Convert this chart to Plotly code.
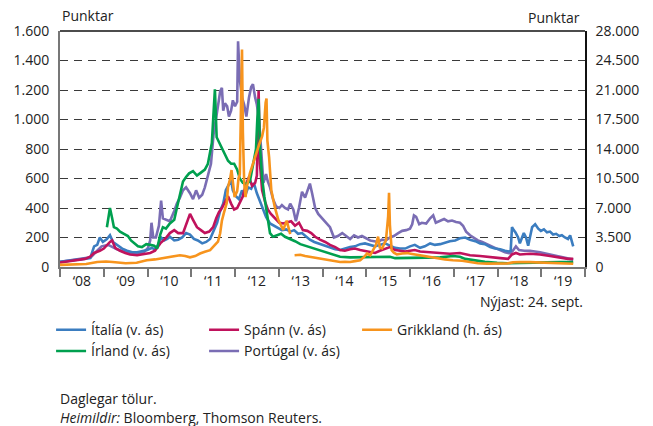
import pandas as pd
import plotly.graph_objects as go

# Skuldatryggingaálag (CDS) nokkurra evruríkja, punktar.
# Tímasetningar eru í árum með aukastöfum.

italy_t = [2008.0, 2008.23, 2008.41, 2008.57, 2008.69, 2008.78, 2008.85, 2008.91, 2008.98, 2009.07,
           2009.14, 2009.21, 2009.30, 2009.42, 2009.53, 2009.65, 2009.76, 2009.87, 2009.99, 2010.10,
           2010.17, 2010.24, 2010.31, 2010.38, 2010.45, 2010.51, 2010.61, 2010.70, 2010.79, 2010.88,
           2010.97, 2011.06, 2011.15, 2011.25, 2011.34, 2011.43, 2011.52, 2011.59, 2011.66, 2011.73,
           2011.79, 2011.86, 2011.91, 2011.95, 2012.02, 2012.09, 2012.16, 2012.23, 2012.30, 2012.37,
           2012.43, 2012.50, 2012.57, 2012.64, 2012.71, 2012.80, 2012.89, 2012.98, 2013.07, 2013.17,
           2013.26, 2013.35, 2013.44, 2013.53, 2013.62, 2013.71, 2013.81, 2013.90, 2013.99, 2014.08,
           2014.17, 2014.29, 2014.40, 2014.51, 2014.63, 2014.74, 2014.86, 2014.97, 2015.09, 2015.20,
           2015.31, 2015.43, 2015.54, 2015.66, 2015.77, 2015.89, 2016.00, 2016.11, 2016.23, 2016.34,
           2016.46, 2016.57, 2016.69, 2016.80, 2016.91, 2017.03, 2017.14, 2017.26, 2017.37, 2017.49,
           2017.60, 2017.71, 2017.83, 2017.94, 2018.06, 2018.17, 2018.26, 2018.30, 2018.33, 2018.37,
           2018.41, 2018.47, 2018.51, 2018.56, 2018.60, 2018.65, 2018.70, 2018.74, 2018.79, 2018.86,
           2018.93, 2018.99, 2019.06, 2019.13, 2019.20, 2019.27, 2019.34, 2019.41, 2019.47, 2019.54,
           2019.61, 2019.66, 2019.70, 2019.73]
italy_v = [35, 45, 50, 55, 60, 140, 150, 200, 170, 190,
           215, 170, 150, 125, 110, 100, 100, 105, 115, 130,
           120, 150, 200, 180, 190, 205, 180, 185, 200, 230,
           220, 190, 180, 160, 170, 190, 250, 300, 380, 430,
           520, 560, 590, 520, 480, 460, 520, 480, 540, 530,
           570, 500, 450, 390, 340, 295, 280, 265, 250, 255,
           240, 250, 225, 230, 210, 185, 170, 160, 150, 140,
           130, 120, 115, 125, 135, 140, 155, 160, 150, 140,
           150, 160, 145, 130, 125, 125, 140, 150, 130, 140,
           160, 150, 155, 165, 175, 180, 195, 200, 185, 175,
           160, 155, 135, 125, 120, 110, 105, 110, 270, 250,
           235, 200, 160, 200, 230, 200, 145, 200, 270, 290,
           260, 245, 255, 235, 240, 220, 225, 210, 215, 200,
           190, 215, 175, 140]

spain_t = [2008.0, 2008.23, 2008.41, 2008.57, 2008.69, 2008.78, 2008.91, 2009.0, 2009.14, 2009.19,
           2009.26, 2009.37, 2009.49, 2009.60, 2009.76, 2009.90, 2010.06, 2010.17, 2010.29, 2010.40,
           2010.51, 2010.61, 2010.70, 2010.81, 2010.90, 2010.97, 2011.04, 2011.13, 2011.22, 2011.31,
           2011.41, 2011.50, 2011.57, 2011.63, 2011.70, 2011.77, 2011.84, 2011.91, 2011.98, 2012.05,
           2012.11, 2012.18, 2012.25, 2012.32, 2012.39, 2012.46, 2012.50, 2012.54, 2012.57, 2012.62,
           2012.69, 2012.75, 2012.82, 2012.91, 2013.01, 2013.10, 2013.19, 2013.28, 2013.37, 2013.46,
           2013.55, 2013.65, 2013.74, 2013.83, 2013.94, 2014.06, 2014.17, 2014.29, 2014.40, 2014.51,
           2014.63, 2014.74, 2014.86, 2014.97, 2015.09, 2015.20, 2015.31, 2015.43, 2015.54, 2015.66,
           2015.77, 2015.89, 2016.00, 2016.11, 2016.23, 2016.46, 2016.69, 2016.91, 2017.14, 2017.37,
           2017.60, 2017.83, 2018.06, 2018.24, 2018.33, 2018.42, 2018.51, 2018.74, 2018.97, 2019.20,
           2019.43, 2019.61, 2019.73]
spain_v = [30, 40, 45, 55, 70, 95, 110, 125, 170, 180,
           130, 110, 95, 85, 80, 85, 95, 110, 160, 190,
           230, 250, 230, 230, 300, 360, 320, 270, 250, 230,
           240, 270, 330, 370, 400, 440, 480, 430, 390, 400,
           440, 480, 560, 610, 550, 570, 620, 1195, 700, 520,
           440, 390, 360, 330, 300, 295, 300, 310, 280, 300,
           250, 245, 230, 205, 185, 170, 150, 135, 115, 110,
           120, 125, 115, 110, 100, 95, 110, 125, 135, 115,
           110, 105, 110, 115, 105, 100, 95, 90, 95, 80,
           75, 70, 60, 55, 85, 95, 85, 90, 85, 75,
           65, 55, 55]

ireland_t = [2009.07, 2009.10, 2009.14, 2009.19, 2009.23, 2009.30, 2009.37, 2009.46, 2009.55, 2009.62,
             2009.69, 2009.78, 2009.87, 2009.97, 2010.06, 2010.15, 2010.22, 2010.29, 2010.35, 2010.42,
             2010.51, 2010.61, 2010.67, 2010.72, 2010.77, 2010.81, 2010.88, 2010.95, 2011.04, 2011.13,
             2011.22, 2011.31, 2011.38, 2011.43, 2011.47, 2011.51, 2011.54, 2011.58, 2011.63, 2011.70,
             2011.77, 2011.84, 2011.91, 2011.98, 2012.05, 2012.11, 2012.18, 2012.25, 2012.34, 2012.41,
             2012.48, 2012.51, 2012.54, 2012.57, 2012.62, 2012.67, 2012.73, 2012.80, 2012.87, 2012.96,
             2013.05, 2013.14, 2013.26, 2013.37, 2013.49, 2013.60, 2013.71, 2013.83, 2013.94, 2014.06,
             2014.17, 2014.29, 2014.40, 2014.63, 2014.86, 2015.09, 2015.31, 2015.54, 2015.66, 2015.89,
             2016.11, 2016.34, 2016.69, 2016.98, 2017.14, 2017.26, 2017.44, 2017.71, 2017.99, 2018.22,
             2018.51, 2018.74, 2019.09, 2019.43, 2019.73]
ireland_v = [270, 330, 400, 330, 270, 260, 240, 225, 210, 180,
             160, 140, 135, 155, 150, 145, 125, 220, 270, 260,
             295, 320, 400, 470, 520, 580, 610, 635, 650, 620,
             640, 660, 700, 770, 840, 1050, 1205, 880, 850, 800,
             760, 720, 700, 700, 660, 600, 570, 565, 580, 680,
             800, 1000, 1140, 820, 600, 480, 350, 230, 205, 215,
             225, 205, 190, 175, 155, 145, 135, 125, 110, 100,
             90, 80, 70, 65, 65, 65, 65, 70, 60, 60,
             65, 65, 65, 75, 70, 55, 45, 35, 28, 25,
             28, 30, 35, 33, 33]

portugal_t = [2008.0, 2008.40, 2008.70, 2008.85, 2008.95, 2009.10, 2009.30, 2009.50, 2009.70, 2009.90,
              2010.01, 2010.06, 2010.09, 2010.13, 2010.19, 2010.26, 2010.31, 2010.35, 2010.42, 2010.51,
              2010.61, 2010.67, 2010.74, 2010.81, 2010.88, 2010.97, 2011.04, 2011.11, 2011.18, 2011.25,
              2011.31, 2011.38, 2011.45, 2011.51, 2011.57, 2011.62, 2011.66, 2011.70, 2011.73, 2011.77,
              2011.82, 2011.86, 2011.91, 2011.95, 2012.00, 2012.05, 2012.07, 2012.11, 2012.16, 2012.21,
              2012.26, 2012.32, 2012.37, 2012.41, 2012.46, 2012.50, 2012.55, 2012.58, 2012.62, 2012.65,
              2012.71, 2012.75, 2012.80, 2012.87, 2012.94, 2013.01, 2013.07, 2013.14, 2013.21, 2013.26,
              2013.33, 2013.39, 2013.46, 2013.53, 2013.60, 2013.67, 2013.71, 2013.76, 2013.83, 2013.90,
              2013.99, 2014.08, 2014.17, 2014.26, 2014.35, 2014.45, 2014.54, 2014.63, 2014.72, 2014.81,
              2014.90, 2014.99, 2015.09, 2015.18, 2015.27, 2015.36, 2015.45, 2015.54, 2015.63, 2015.73,
              2015.82, 2015.91, 2016.00, 2016.05, 2016.09, 2016.14, 2016.21, 2016.27, 2016.37, 2016.46,
              2016.53, 2016.59, 2016.69, 2016.78, 2016.87, 2016.96, 2017.05, 2017.14, 2017.21, 2017.28,
              2017.37, 2017.46, 2017.55, 2017.65, 2017.74, 2017.83, 2017.94, 2018.06, 2018.17, 2018.29,
              2018.35, 2018.42, 2018.49, 2018.61, 2018.74, 2018.97, 2019.20, 2019.43, 2019.61, 2019.73]
portugal_v = [35, 50, 65, 110, 140, 150, 120, 100, 90, 95,
              130, 180, 300, 200, 200, 280, 450, 330, 320, 310,
              380, 430, 470, 520, 540, 500, 460, 520, 470, 490,
              540, 620, 700, 900, 1000, 1110, 1190, 1215, 1060, 1110,
              1090, 1020, 1060, 1130, 1090, 1120, 1530, 1270, 1150, 1100,
              1020, 1150, 1220, 1240, 1150, 1100, 1000, 850, 660, 570,
              630, 580, 540, 460, 410, 400, 420, 400, 390, 430,
              390, 310, 400, 510, 470, 530, 565, 500, 400, 360,
              330, 300, 270, 200, 210, 230, 210, 190, 215, 200,
              210, 195, 180, 175, 170, 185, 180, 200, 210, 230,
              245, 250, 260, 290, 350, 340, 290, 300, 295, 330,
              350, 300, 315, 325, 310, 315, 305, 300, 280, 240,
              215, 195, 180, 170, 155, 145, 130, 115, 100, 92,
              110, 140, 115, 110, 110, 100, 85, 70, 55, 50]

# Grikkland er á hægri ás; bil í röðinni við skuldaskiptin 2013
greece_t = [2008.0, 2008.30, 2008.60, 2008.85, 2009.0, 2009.05, 2009.20, 2009.50, 2009.75, 2009.98,
            2010.17, 2010.29, 2010.40, 2010.51, 2010.63, 2010.74, 2010.86, 2010.97, 2011.09, 2011.20,
            2011.31, 2011.43, 2011.52, 2011.61, 2011.66, 2011.70, 2011.75, 2011.81, 2011.84, 2011.89,
            2011.92, 2011.95, 2011.99, 2012.05, 2012.08, 2012.11, 2012.13, 2012.16, 2012.18, 2012.21,
            2012.24, 2012.27, 2012.34, 2012.41, 2012.48, 2012.55, 2012.62, 2012.66, 2012.70, 2012.72,
            2012.74, 2012.78, 2012.83, 2012.91, 2012.99, 2013.10, 2013.18, 2013.26, 2013.31, 2013.36,
            2013.49, 2013.60, 2013.71, 2013.83, 2013.94, 2014.06, 2014.17, 2014.29, 2014.40, 2014.51,
            2014.63, 2014.74, 2014.86, 2014.95, 2015.02, 2015.09, 2015.15, 2015.22, 2015.27, 2015.31,
            2015.36, 2015.41, 2015.45, 2015.50, 2015.52, 2015.54, 2015.58, 2015.63, 2015.70, 2015.82,
            2015.93, 2016.05, 2016.16, 2016.27, 2016.46, 2016.62, 2016.80, 2016.98, 2017.19, 2017.37,
            2017.55, 2017.76, 2017.99, 2018.22, 2018.35, 2018.51, 2018.74, 2018.97, 2019.20, 2019.43,
            2019.66, 2019.73]
greece_v = [250, 300, 350, 600, 700, 650, 600, 450, 500, 800,
            900, 1000, 1100, 1200, 1300, 1400, 1300, 1150, 1300, 1600,
            1800, 2000, 2500, 3000, 4000, 5500, 6500, 7600, 9500, 10500,
            11500, 10000, 8300, 9000, 10500, 11000, 18000, 25800, 16000, 10000,
            8300, 9500, 11100, 12300, 13500, 14500, 15500, 16500, 19500, 20000,
            15000, 13000, 9100, 7100, 5600, 4400, 5500, 3900, None, 1400,
            1450, 1300, 1200, 1150, 1000, 900, 800, 700, 600, 620,
            600, 700, 800, 1200, 1600, 1400, 2000, 2600, 3600, 2300,
            2200, 2800, 3200, 6000, 8800, 5000, 2000, 1700, 1500, 1600,
            1650, 1550, 1450, 1400, 1200, 1000, 900, 800, 750, 600,
            450, 400, 400, 420, 550, 600, 580, 550, 480, 430,
            380, 380]

left_ticks = list(range(0, 1601, 200))
right_ticks = list(range(0, 28001, 3500))


def to_dates(ts):
    out = []
    for t in ts:
        y = int(t)
        start = pd.Timestamp(year=y, month=1, day=1)
        out.append(start + pd.Timedelta(days=(t - y) * 365.25))
    return out


BLUE = "#3b7dc0"
MAGENTA = "#c0125c"
ORANGE = "#f7941d"
GREEN = "#00a04f"
PURPLE = "#7a6db4"
FONT = "Open Sans"

fig = go.Figure()

# teikniröð: fjólublátt neðst, appelsínugult efst
series = [
    ("Portúgal (v. ás)", portugal_t, portugal_v, PURPLE, "y", 5),
    ("Ítalía (v. ás)", italy_t, italy_v, BLUE, "y", 1),
    ("Spánn (v. ás)", spain_t, spain_v, MAGENTA, "y", 2),
    ("Írland (v. ás)", ireland_t, ireland_v, GREEN, "y", 4),
    ("Grikkland (h. ás)", greece_t, greece_v, ORANGE, "y2", 3),
]
for name, ts, vs, color, axis, rank in series:
    fig.add_trace(go.Scatter(
        x=to_dates(ts), y=vs, name=name, mode="lines", yaxis=axis,
        line=dict(color=color, width=2.6), connectgaps=False,
        legendrank=rank,
    ))

fig.update_layout(
    width=653, height=426,
    margin=dict(l=60, r=68, t=31, b=159),
    paper_bgcolor="white", plot_bgcolor="white",
    separators=",.",
    font=dict(family=FONT, size=14, color="#222222"),
    showlegend=True,
    legend=dict(
        orientation="h", x=-0.017, xanchor="left", y=-0.2, yanchor="top",
        entrywidth=108, entrywidthmode="pixels",
        font=dict(size=14, color="#222222"), itemwidth=30,
        tracegroupgap=0, bgcolor="rgba(0,0,0,0)",
    ),
    xaxis=dict(
        type="date", range=["2008-01-01", "2020-01-01"],
        tick0="2008-01-01", dtick="M12", ticklabelmode="period",
        tickformat="‘%y", ticks="outside", ticklen=8, tickwidth=1.5,
        tickcolor="#777777", showline=True, linecolor="#777777", linewidth=2,
        showgrid=False, zeroline=False, ticklabelstandoff=-8,
        tickfont=dict(size=14, color="#222222"),
    ),
    yaxis=dict(
        range=[0, 1600], tickvals=left_ticks, tickformat=",d",
        showgrid=True, gridcolor="#3a3a3a", gridwidth=1.2, griddash="8px,6px",
        showline=True, linecolor="#777777", linewidth=2, zeroline=False,
        ticks="", ticklabelstandoff=6, tickfont=dict(size=14, color="#222222"),
    ),
    yaxis2=dict(
        range=[0, 28000], tickvals=right_ticks, tickformat=",d",
        overlaying="y", side="right", showgrid=False,
        showline=True, linecolor="#111111", linewidth=1.5, zeroline=False,
        ticks="", ticklabelstandoff=6, tickfont=dict(size=14, color="#222222"),
    ),
    shapes=[dict(type="line", xref="paper", yref="paper", x0=0, x1=1, y0=1, y1=1,
                 line=dict(color="#111111", width=1.5))],
    annotations=[
        dict(text="Punktar", xref="paper", yref="paper", x=0, y=1,
             xanchor="left", yanchor="bottom", yshift=4, showarrow=False,
             font=dict(size=14)),
        dict(text="Punktar", xref="paper", yref="paper", x=1, y=1,
             xanchor="right", yanchor="bottom", yshift=2, xshift=-3, showarrow=False,
             font=dict(size=14)),
        dict(text="Nýjast: 24. sept.", xref="paper", yref="paper", x=1, y=0,
             xanchor="right", yanchor="top", yshift=-23, showarrow=False,
             font=dict(size=14)),
        dict(text="Daglegar tölur.", xref="paper", yref="paper", x=-0.004, y=0,
             xanchor="left", yanchor="top", yshift=-120, showarrow=False,
             font=dict(size=14)),
        dict(text="<i>Heimildir:</i> Bloomberg, Thomson Reuters.", xref="paper", yref="paper",
             x=-0.004, y=0, xanchor="left", yanchor="top", yshift=-139, showarrow=False,
             font=dict(size=14)),
    ],
)

fig.write_html("out.html")
